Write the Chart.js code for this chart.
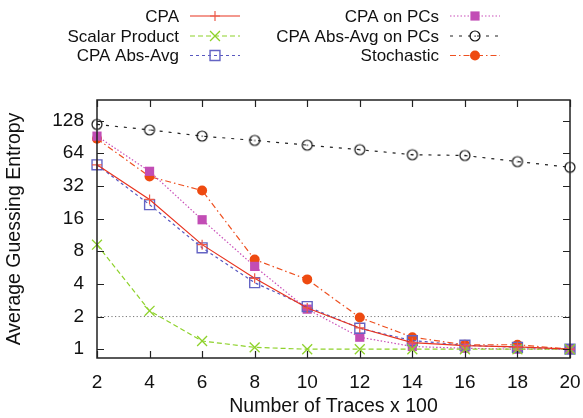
<!DOCTYPE html>
<html>
<head>
<meta charset="utf-8">
<script src="https://cdn.jsdelivr.net/npm/chart.js@4/dist/chart.umd.min.js"></script>
<style>
  html, body { margin: 0; padding: 0; background: #fff; }
  #wrap { width: 583px; height: 418px; }
</style>
</head>
<body>
<div id="wrap"><canvas id="c" width="583" height="418"></canvas></div>
<script>
// Number of traces (in hundreds)
const traces = [2, 4, 6, 8, 10, 12, 14, 16, 18, 20];

// Average guessing entropy per attack
const cpa            = [50, 24, 9.2, 4.5, 2.4, 1.57, 1.15, 1.08, 1.05, 1.0];
const scalarProduct  = [9.2, 2.26, 1.19, 1.04, 1.0, 1.0, 1.0, 1.0, 1.0, 1.0];
const cpaAbsAvg      = [50, 21.5, 8.6, 4.1, 2.47, 1.56, 1.2, 1.09, 1.04, 1.0];
const cpaOnPCs       = [92, 43.6, 15.6, 5.8, 2.34, 1.29, 1.06, 1.02, 1.0, 1.0];
const cpaAbsAvgOnPCs = [118, 105, 92, 84, 76, 69, 62, 61, 53.6, 47.5];
const stochastic     = [87, 39, 29, 6.7, 4.4, 1.96, 1.29, 1.1, 1.1, 1.0];

// Axis ticks
const xTicks = [2, 4, 6, 8, 10, 12, 14, 16, 18, 20];
const yTicks = [1, 2, 4, 8, 16, 32, 64, 128];

// Horizontal reference level
const referenceLevel = 2;

const FONT = "'Liberation Sans', Arial, Helvetica, sans-serif";

// Open circle with a small centre dot, used as a point style
function ringMarker(color) {
  const cv = document.createElement('canvas');
  cv.width = 14; cv.height = 14;
  const g = cv.getContext('2d');
  g.strokeStyle = color; g.lineWidth = 1.2;
  g.beginPath(); g.arc(7, 7, 5, 0, Math.PI * 2); g.stroke();
  g.fillStyle = color;
  g.fillRect(6.5, 6.5, 1.2, 1.2);
  return cv;
}
const ring = ringMarker('#111');

function pts(values) {
  return traces.map((t, i) => ({ x: t, y: values[i] }));
}

const datasets = [
  { label: 'CPA', data: pts(cpa), borderColor: '#e8321e', backgroundColor: '#e8321e',
    borderDash: [], pointStyle: 'cross', pointRadius: 5, pointBorderColor: '#ec5a4a', pointBorderWidth: 1.2 },
  { label: 'Scalar Product', data: pts(scalarProduct), borderColor: '#8ed22b', backgroundColor: '#8ed22b',
    borderDash: [5, 3], pointStyle: 'crossRot', pointRadius: 7, pointBorderColor: '#8ed22b', pointBorderWidth: 1.3 },
  { label: 'CPA Abs-Avg', data: pts(cpaAbsAvg), borderColor: '#5858c0', backgroundColor: 'rgba(0,0,0,0)',
    borderDash: [3, 3], pointStyle: 'rect', pointRadius: 7, pointBorderColor: '#6464c4', pointBorderWidth: 1.4 },
  { label: 'CPA on PCs', data: pts(cpaOnPCs), borderColor: '#c94fb9', backgroundColor: '#c24db5',
    borderDash: [1.5, 2], pointStyle: 'rect', pointRadius: 6.5, pointBorderColor: '#c24db5', pointBorderWidth: 0 },
  { label: 'CPA Abs-Avg on PCs', data: pts(cpaAbsAvgOnPCs), borderColor: '#222', backgroundColor: '#222',
    borderDash: [3, 6], pointStyle: ring, pointRadius: 5, pointBorderColor: '#111', pointBorderWidth: 1 },
  { label: 'Stochastic', data: pts(stochastic), borderColor: '#ee5020', backgroundColor: '#ee4a10',
    borderDash: [6, 3, 1.5, 3], pointStyle: 'circle', pointRadius: 5, pointBorderColor: '#ee4a10', pointBorderWidth: 0 }
];
datasets.forEach(d => {
  d.borderWidth = 1.2;
  d.pointBackgroundColor = d.backgroundColor;
  d.fill = false;
  d.tension = 0;
  d.clip = false;
});

// Marker for legend samples
function drawMarker(ctx, ds, x, y) {
  const r = ds.pointRadius;
  const st = ds.pointStyle;
  ctx.save();
  ctx.setLineDash([]);
  ctx.strokeStyle = ds.pointBorderColor;
  ctx.fillStyle = ds.pointBackgroundColor;
  ctx.lineWidth = ds.pointBorderWidth || 1;
  if (typeof st !== 'string') {
    ctx.drawImage(st, x - st.width / 2, y - st.height / 2);
  } else if (st === 'cross') {
    ctx.beginPath();
    ctx.moveTo(x - r, y); ctx.lineTo(x + r, y);
    ctx.moveTo(x, y - r); ctx.lineTo(x, y + r);
    ctx.stroke();
  } else if (st === 'crossRot') {
    const o = r * Math.SQRT1_2;
    ctx.beginPath();
    ctx.moveTo(x - o, y - o); ctx.lineTo(x + o, y + o);
    ctx.moveTo(x - o, y + o); ctx.lineTo(x + o, y - o);
    ctx.stroke();
  } else if (st === 'rect') {
    const s = r * Math.SQRT1_2;
    ctx.beginPath();
    ctx.rect(x - s, y - s, 2 * s, 2 * s);
    ctx.fill();
    if (ds.pointBorderWidth) ctx.stroke();
  } else {
    ctx.beginPath();
    ctx.arc(x, y, r, 0, Math.PI * 2);
    ctx.fill();
  }
  ctx.restore();
}

const framePlugin = {
  id: 'frame',
  beforeDatasetsDraw(chart) {
    const { ctx, chartArea: a, scales: { y } } = chart;
    const yy = y.getPixelForValue(referenceLevel);
    ctx.save();
    ctx.strokeStyle = '#777';
    ctx.lineWidth = 1;
    ctx.setLineDash([1.2, 2.4]);
    ctx.beginPath();
    ctx.moveTo(a.left, yy); ctx.lineTo(a.right, yy);
    ctx.stroke();
    ctx.restore();
  },
  afterDatasetsDraw(chart) {
    const { ctx, chartArea: a, scales: { x, y } } = chart;
    const tl = 7;
    ctx.save();
    ctx.strokeStyle = '#222';
    ctx.lineWidth = 1.5;
    ctx.setLineDash([]);
    ctx.strokeRect(a.left, a.top, a.right - a.left, a.bottom - a.top);
    ctx.lineWidth = 1.2;
    ctx.beginPath();
    xTicks.forEach(v => {
      const px = Math.round(x.getPixelForValue(v)) + 0.5;
      ctx.moveTo(px, a.bottom); ctx.lineTo(px, a.bottom - tl);
      ctx.moveTo(px, a.top); ctx.lineTo(px, a.top + tl);
    });
    yTicks.forEach(v => {
      const py = Math.round(y.getPixelForValue(v)) + 0.5;
      ctx.moveTo(a.left, py); ctx.lineTo(a.left + tl, py);
      ctx.moveTo(a.right, py); ctx.lineTo(a.right - tl, py);
    });
    ctx.stroke();
    ctx.restore();
  },
  afterDraw(chart) {
    const ctx = chart.ctx;
    const dsets = chart.data.datasets;
    const cols = [{ textRight: 179, lineL: 190, lineR: 240 }, { textRight: 439, lineL: 450, lineR: 500 }];
    const rows = [16, 36, 55.5];
    ctx.save();
    ctx.font = '17px ' + FONT;
    ctx.textAlign = 'right';
    ctx.textBaseline = 'middle';
    dsets.forEach((ds, i) => {
      const c = cols[Math.floor(i / 3)];
      const yy = rows[i % 3];
      ctx.fillStyle = '#111';
      ctx.fillText(ds.label, c.textRight, yy + 1);
      ctx.strokeStyle = ds.borderColor;
      ctx.lineWidth = ds.borderWidth;
      ctx.setLineDash(ds.borderDash);
      ctx.beginPath();
      ctx.moveTo(c.lineL, yy); ctx.lineTo(c.lineR, yy);
      ctx.stroke();
      drawMarker(ctx, ds, (c.lineL + c.lineR) / 2, yy);
    });
    ctx.restore();
  }
};

new Chart(document.getElementById('c'), {
  type: 'line',
  data: { datasets },
  plugins: [framePlugin],
  options: {
    responsive: false,
    animation: false,
    devicePixelRatio: 1,
    layout: { padding: { left: 0, right: 13, top: 100, bottom: 0 } },
    plugins: { legend: { display: false }, tooltip: { enabled: false } },
    scales: {
      x: {
        type: 'linear',
        min: 2, max: 20,
        afterBuildTicks: s => { s.ticks = xTicks.map(v => ({ value: v })); },
        afterFit: s => { s.height = 60; s.paddingLeft = 0; s.paddingRight = 0; },
        grid: { display: false },
        border: { display: false },
        ticks: { color: '#111', padding: 5, maxRotation: 0, autoSkip: false,
                 font: { family: FONT, size: 19 }, callback: v => String(v) },
        title: { display: true, text: 'Number of Traces x 100', color: '#111',
                 font: { family: FONT, size: 19.5 }, padding: { top: 0, bottom: 0 } }
      },
      y: {
        type: 'logarithmic',
        min: 0.83, max: 198,
        afterBuildTicks: s => { s.ticks = yTicks.map(v => ({ value: v })); },
        afterFit: s => { s.width = 97; s.paddingTop = 0; s.paddingBottom = 0; },
        grid: { display: false },
        border: { display: false },
        ticks: { color: '#111', padding: 5, autoSkip: false,
                 font: { family: FONT, size: 19 }, callback: v => String(v) },
        title: { display: true, text: 'Average Guessing Entropy', color: '#111',
                 font: { family: FONT, size: 19.5 }, padding: { top: 3, bottom: 0 } }
      }
    }
  }
});
</script>
</body>
</html>
